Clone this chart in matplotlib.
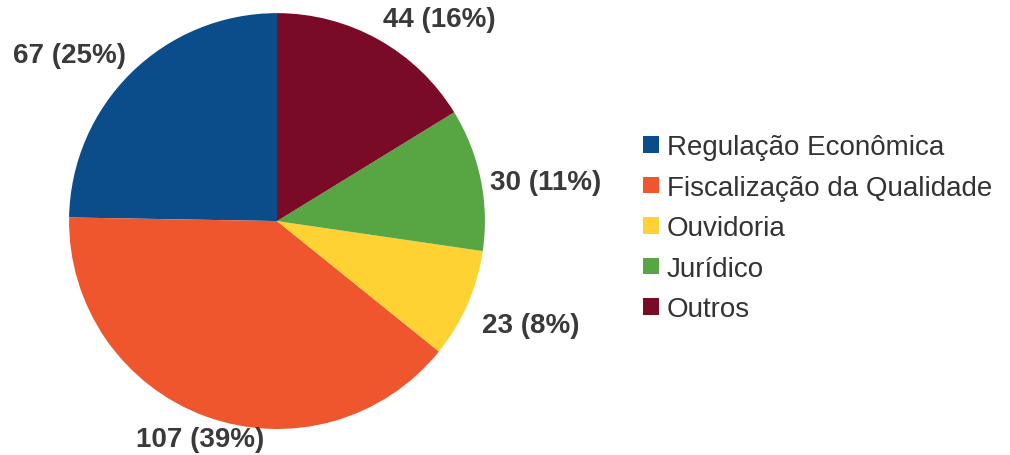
import matplotlib.pyplot as plt
from matplotlib.patches import Patch

# dados
categorias = ['Regulação Econômica', 'Fiscalização da Qualidade',
              'Ouvidoria', 'Jurídico', 'Outros']
valores = [67, 107, 23, 30, 44]
percentuais = [25, 39, 8, 11, 16]
cores = ['#0B4C8A', '#F0562E', '#FDD232', '#58A544', '#7A0B27']

# posicao dos rotulos (unidades do raio)
pos_rotulos = [(-1.0, 0.80), (-0.37, -1.05), (1.22, -0.50),
               (1.29, 0.19), (0.78, 0.97)]

plt.rcParams['font.family'] = ['Liberation Sans', 'DejaVu Sans']

fig = plt.figure(figsize=(10.1, 4.56), dpi=100)
ax = fig.add_axes([0.0683, 0.057, 0.4119, 0.912])

wedges, _ = ax.pie(valores, colors=cores, startangle=90,
                   counterclock=True, radius=1.0)
ax.set_xlim(-1, 1)
ax.set_ylim(-1, 1)
ax.set_aspect('equal')

for (x, y), v, p in zip(pos_rotulos, valores, percentuais):
    ax.text(x, y, f'{v} ({p}%)',
            ha='center', va='center', fontsize=20, fontweight='bold',
            color='#3a3a3a', clip_on=False)

handles = [Patch(facecolor=c, edgecolor='none') for c in cores]
fig.legend(handles, categorias, loc='center left',
           bbox_to_anchor=(0.637, 0.497), frameon=False,
           fontsize=20, handlelength=0.55, handleheight=0.55,
           handletextpad=0.3, labelspacing=0.52,
           labelcolor='#333333', borderpad=0, borderaxespad=0)

fig.savefig('out.png', dpi=100)
